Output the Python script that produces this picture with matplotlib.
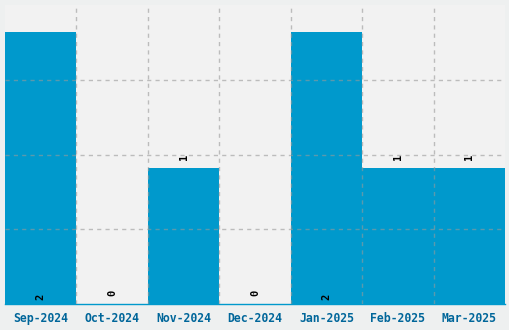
import matplotlib.pyplot as plt
import numpy as np

months = ["Sep-2024", "Oct-2024", "Nov-2024", "Dec-2024", "Jan-2025", "Feb-2025", "Mar-2025"]
counts = [2, 0, 1, 0, 2, 1, 1]

bar_color = "#0099cc"
label_color = "#00669a"

fig = plt.figure(figsize=(5.1, 3.3), dpi=100, facecolor="#eef0f0")
ax = fig.add_axes([5 / 510, 26 / 330, 500 / 510, 299 / 330])
ax.set_facecolor("#f2f2f2")

x = np.arange(len(months))
ax.bar(x, counts, width=1.0, color=bar_color, zorder=2)

ax.set_xlim(-0.5, len(months) - 0.5)
ax.set_ylim(0, 2.2)

ax.set_xticks(x)
ax.set_xticklabels(months, family="DejaVu Sans Mono", fontweight="bold",
                   fontsize=8.3, color=label_color)
ax.set_xticks(x[:-1] + 0.5, minor=True)
ax.set_yticks([0.55, 1.1, 1.65])
ax.set_yticklabels([])
ax.tick_params(axis="both", which="both", length=0)
ax.tick_params(axis="x", pad=6)

ax.grid(axis="x", which="minor", linestyle=(0, (3, 3)), color="#999999", alpha=0.6, lw=1, zorder=3)
ax.grid(axis="y", which="major", linestyle=(0, (3, 3)), color="#999999", alpha=0.6, lw=1, zorder=3)
ax.set_axisbelow(False)

for s in ["top", "left", "right"]:
    ax.spines[s].set_visible(False)
ax.spines["bottom"].set_color(bar_color)
ax.spines["bottom"].set_linewidth(1)

top = max(counts)
for xi, c in zip(x, counts):
    y = 0.03 if c == top else c + 0.06
    ax.text(xi, y, str(c), rotation=90, ha="center", va="bottom",
            fontsize=7.5, family="DejaVu Sans Mono", fontweight="bold", zorder=4)

fig.savefig("out.png", dpi=100, facecolor=fig.get_facecolor())
